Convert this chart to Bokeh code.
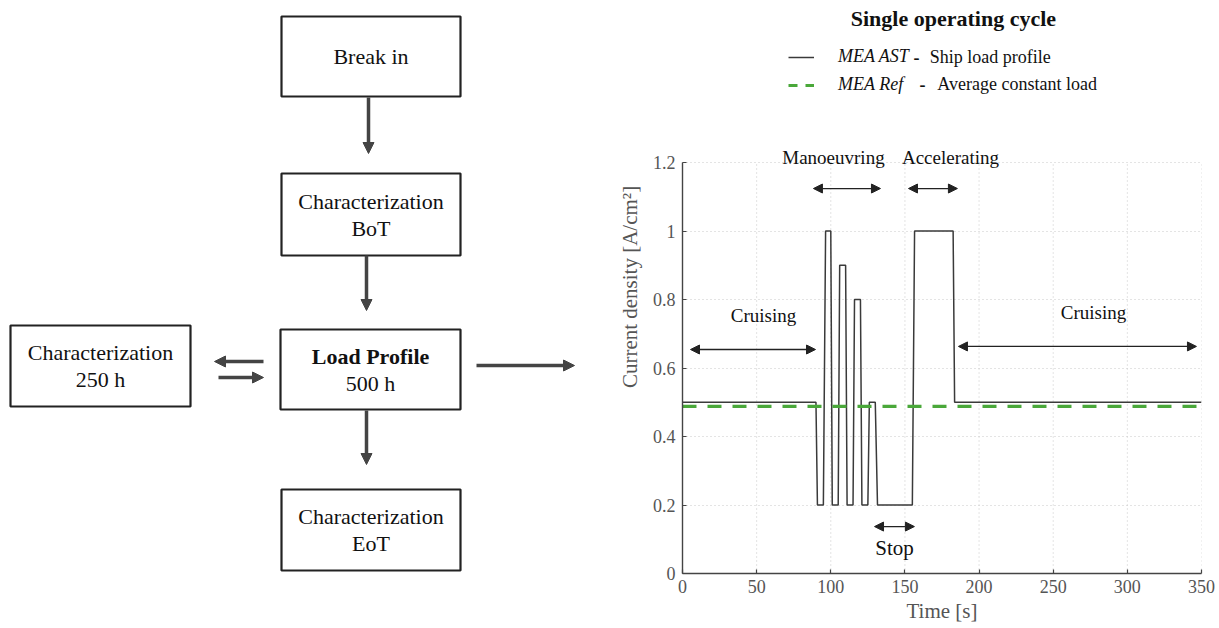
from bokeh.plotting import figure
from bokeh.layouts import row
from bokeh.models import (Range1d, Arrow, NormalHead, Label, Legend, LegendItem,
                          FixedTicker)
from bokeh.core.properties import value
from bokeh.embed import file_html
from bokeh.resources import INLINE

FONT = "Liberation Serif"

# ---------------- data: load profile ----------------
time_s = [0, 90, 91, 95, 96.5, 100, 101, 105, 106, 110, 111, 115, 116, 120,
          121, 125, 126, 130, 131.5, 155, 156.5, 182.5, 183.5, 350]
current_density = [0.5, 0.5, 0.2, 0.2, 1.0, 1.0, 0.2, 0.2, 0.9, 0.9, 0.2, 0.2, 0.8, 0.8,
                   0.2, 0.2, 0.5, 0.5, 0.2, 0.2, 1.0, 1.0, 0.5, 0.5]
avg_time = [0, 350]
avg_current = [0.488, 0.488]

x_ticks = [0, 50, 100, 150, 200, 250, 300, 350]
y_ticks = [0, 0.2, 0.4, 0.6, 0.8, 1.0, 1.2]
y_tick_labels = ["0", "0.2", "0.4", "0.6", "0.8", "1", "1.2"]
y_max = 1.2

phase_names = ["Cruising", "Manoeuvring", "Stop", "Accelerating", "Cruising"]
phase_start = [5.4, 88.3, 129.5, 152.4, 186.1]
phase_end = [89.7, 133.5, 156.4, 185.4, 346.6]
phase_arrow_y = [0.654, 1.124, 0.137, 1.124, 0.663]
phase_label_x = [54.6, 101.8, 143.0, 180.7, 277.2]
phase_label_y = [0.753, 1.215, 0.073, 1.215, 0.762]
phase_font = ["19px", "19px", "21px", "19px", "19px"]

legend_names = ["MEA AST", "MEA Ref"]
legend_desc = ["Ship load profile", "Average constant load"]

# ---------------- data: flowchart ----------------
box_lines = [["Break in"], ["Characterization", "BoT"], ["Load Profile", "500 h"],
             ["Characterization", "250 h"], ["Characterization", "EoT"]]
box_left = [281, 281, 280, 10, 281]
box_right = [460, 460, 460, 190, 460]
box_top = [16, 173, 329, 325, 489]
box_bottom = [96, 255, 409, 406, 570]
flow_arrows = [  # x_start, y_start, x_end, y_end
    (368, 97, 368, 153),
    (366, 255, 366, 310),
    (366, 410, 366, 464),
    (263, 361, 214, 361),
    (218, 377, 263, 377),
    (476, 365, 574, 365),
]

# ---------------- left: flowchart ----------------
left = figure(width=600, height=628, x_range=Range1d(0, 600), y_range=Range1d(573, 0),
              output_backend="svg", toolbar_location=None,
              min_border_left=0, min_border_right=0, min_border_top=0, min_border_bottom=55)
left.axis.visible = False
left.grid.visible = False
left.outline_line_color = None

left.quad(left=box_left, right=box_right, top=box_top, bottom=box_bottom,
          fill_color="white", line_color="#222222", line_width=2.2)

tx, ty, tt, tbx, tby, tbt = [], [], [], [], [], []
for lines, l, r, t, b in zip(box_lines, box_left, box_right, box_top, box_bottom):
    cx = (l + r) / 2
    cy = (t + b) / 2
    n = len(lines)
    for i, s in enumerate(lines):
        yy = cy + (i - (n - 1) / 2) * 27
        if s == "Load Profile":
            tbx.append(cx); tby.append(yy); tbt.append(s)
        else:
            tx.append(cx); ty.append(yy); tt.append(s)

left.text(x=tx, y=ty, text=tt, text_font=value(FONT), text_font_size="22px",
          text_align="center", text_baseline="middle", text_color="#111111")
left.text(x=tbx, y=tby, text=tbt, text_font=value(FONT), text_font_size="22px",
          text_font_style="bold", text_align="center", text_baseline="middle",
          text_color="#111111")

for xs, ys, xe, ye in flow_arrows:
    left.add_layout(Arrow(x_start=xs, y_start=ys, x_end=xe, y_end=ye,
                          line_color="#444444", line_width=3.5,
                          end=NormalHead(size=11, fill_color="#444444",
                                         line_color="#444444", line_width=1)))

# ---------------- right: chart ----------------
# frame extends to the top of the figure so the title/legend/annotations are not clipped
p = figure(width=619, height=628, x_range=Range1d(0, 350), y_range=Range1d(0, 573 / 342.5),
           output_backend="svg", toolbar_location=None,
           min_border_left=82, min_border_right=18, min_border_top=0, min_border_bottom=55)
p.outline_line_color = None
p.xgrid.visible = False

# vertical dotted grid lines, limited to the axis range
p.segment(x0=x_ticks, y0=[0] * len(x_ticks), x1=x_ticks, y1=[y_max] * len(x_ticks),
          line_color="#c8c8c8", line_dash="1 3", line_width=1)

r_ast = p.line(time_s, current_density, line_color="#3a3a3a", line_width=1.5)
r_ref = p.line(avg_time, avg_current, line_color="#4aa83a", line_width=3.2,
               line_dash="14 11")
# hidden twin of the dashed series, used only for the legend key (shorter dashes)
r_ref_key = p.line(avg_time, avg_current, line_color="#4aa83a", line_width=3.2,
                   line_dash="9 8", visible=False)

p.xaxis.ticker = FixedTicker(ticks=x_ticks)
p.yaxis.ticker = FixedTicker(ticks=y_ticks)
p.yaxis.bounds = (0, y_max)
p.yaxis.major_label_overrides = {t: s for t, s in zip(y_ticks, y_tick_labels)}
p.xaxis.axis_label = "Time [s]"
p.yaxis.axis_label = "Current density [A/cm²]"
for ax in (p.xaxis[0], p.yaxis[0]):
    ax.axis_line_color = "#444444"
    ax.axis_line_width = 1.4
    ax.major_tick_line_color = "#444444"
    ax.major_tick_line_width = 1.2
    ax.major_tick_in = 4
    ax.major_tick_out = 0
    ax.minor_tick_line_color = None
    ax.major_label_text_font = FONT
    ax.major_label_text_font_size = "18px"
    ax.major_label_text_color = "#555555"
    ax.axis_label_text_font = FONT
    ax.axis_label_text_font_size = "21px"
    ax.axis_label_text_font_style = "normal"
    ax.axis_label_text_color = "#555555"
p.xaxis.major_label_standoff = 6
p.xaxis.axis_label_standoff = 3
p.yaxis.major_label_standoff = 7
p.yaxis.axis_label_standoff = 8

p.ygrid.grid_line_color = "#c8c8c8"
p.ygrid.grid_line_dash = "1 3"
p.ygrid.grid_line_width = 1

# phase annotations
for name, xs, xe, ya, lx, ly, fs in zip(phase_names, phase_start, phase_end,
                                         phase_arrow_y, phase_label_x, phase_label_y,
                                         phase_font):
    p.add_layout(Arrow(x_start=xs, y_start=ya, x_end=xe, y_end=ya,
                       line_color="#222222", line_width=1.3,
                       start=NormalHead(size=9, fill_color="#222222", line_color="#222222"),
                       end=NormalHead(size=9, fill_color="#222222", line_color="#222222")))
    p.add_layout(Label(x=lx, y=ly, text=name, text_font=FONT, text_font_size=fs,
                       text_align="center", text_baseline="middle", text_color="#111111"))

# title
p.add_layout(Label(x=182.7, y=(573 - 18) / 342.5, text="Single operating cycle",
                   text_font=FONT, text_font_size="22px", text_font_style="bold",
                   text_align="center", text_baseline="middle", text_color="#111111"))

# legend
legend = Legend(items=[LegendItem(label=legend_names[0], renderers=[r_ast]),
                       LegendItem(label=legend_names[1], renderers=[r_ref_key])],
                location=(106, 478), orientation="vertical",
                label_text_font=FONT, label_text_font_size="18px",
                label_text_font_style="italic", label_text_color="#111111",
                glyph_width=26, glyph_height=20, label_height=20, label_standoff=24,
                spacing=7, padding=0, margin=0, border_line_color=None,
                background_fill_alpha=0, inactive_fill_alpha=0)
p.add_layout(legend, "center")

desc_x = [(913 - 682) / 1.4829, (919 - 682) / 1.4829]
desc_y = [(573 - 56.5) / 342.5, (573 - 83.5) / 342.5]
for dx, dy, d, gap in zip(desc_x, desc_y, legend_desc, [11, 12]):
    p.add_layout(Label(x=dx, y=dy, text="-", text_font=FONT, text_font_size="18px",
                       text_font_style="bold", text_align="left", text_baseline="middle",
                       text_color="#111111"))
    p.add_layout(Label(x=dx + gap, y=dy, text=d, text_font=FONT, text_font_size="18px",
                       text_align="left", text_baseline="middle", text_color="#111111"))

layout = row(left, p)
open("out.html", "w").write(file_html(layout, INLINE))
